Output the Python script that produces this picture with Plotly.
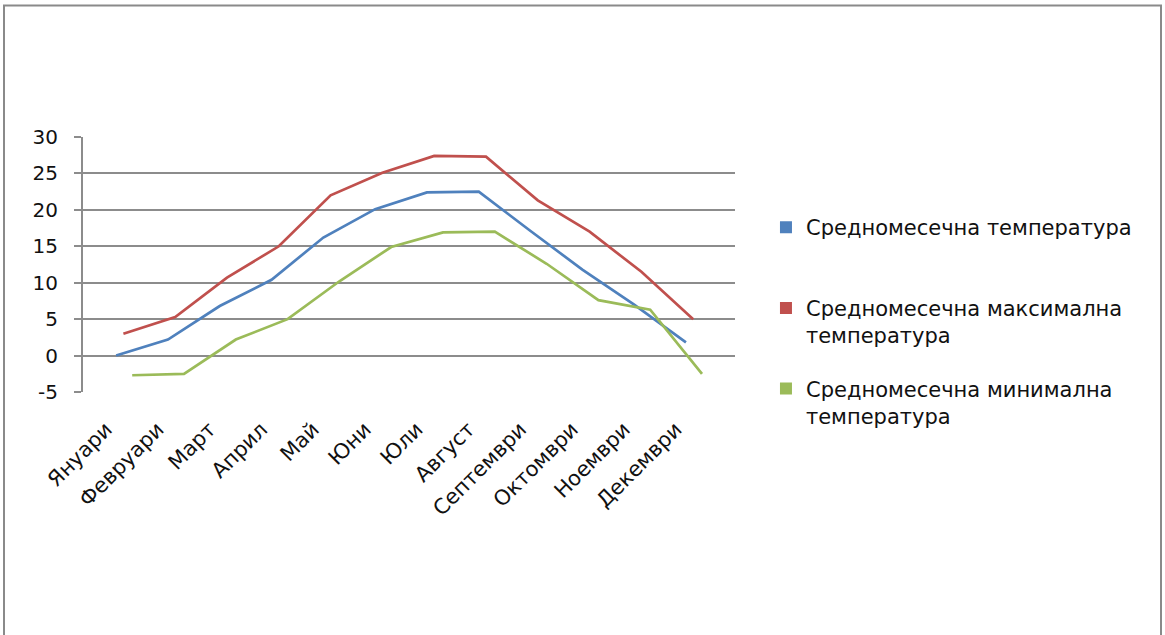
import plotly.graph_objects as go

# Monthly temperatures (°C)
months = ["Януари", "Февруари", "Март", "Април", "Май", "Юни",
          "Юли", "Август", "Септември", "Октомври", "Ноември", "Декември"]
mean_temp = [0.0, 2.2, 6.8, 10.4, 16.2, 20.1, 22.4, 22.5, 17.1, 11.8, 7.0, 1.8]
max_temp = [3.0, 5.3, 10.7, 15.0, 22.0, 25.1, 27.4, 27.3, 21.3, 17.0, 11.5, 5.0]
min_temp = [-2.7, -2.5, 2.2, 5.0, 10.2, 14.9, 16.9, 17.0, 12.6, 7.6, 6.3, -2.5]

y_ticks = [-5, 0, 5, 10, 15, 20, 25, 30]
y_tick_labels = ["-5", "0", "5", "10", "15", "20", "25", "30"]

series_names = [
    "Средномесечна температура<br> ",
    "Средномесечна максимална<br>температура",
    "Средномесечна минимална<br>температура",
]
series_colors = ["#4F81BD", "#C0504D", "#9BBB59"]
# horizontal shift of each line within its month slot (in month units)
series_shift = [0.14, 0.28, 0.45]

FONT = "DejaVu Sans"
GRID = "#8c8c8c"
TEXT = "#111111"

x_range = [-0.5, 12.087]

fig = go.Figure()

series = [mean_temp, max_temp, min_temp]
for i, (vals, name, color, shift) in enumerate(zip(series, series_names, series_colors, series_shift)):
    axis_id = f"x{i + 2}"
    fig.add_trace(go.Scatter(
        x=months, y=vals, mode="lines", name=name,
        line=dict(color=color, width=2.7),
        xaxis=axis_id, showlegend=False,
    ))
    fig.layout[f"xaxis{i + 2}"] = dict(
        type="category", categoryorder="array", categoryarray=months,
        range=[x_range[0] - shift, x_range[1] - shift],
        overlaying="x", visible=False, fixedrange=True,
    )
    # legend entry with a square key
    fig.add_trace(go.Scatter(
        x=[None], y=[None], mode="markers", name=name,
        marker=dict(symbol="square", size=12, color=color),
        legendgroup=f"g{i}",
    ))

# bottom axis carrying the month labels
fig.update_layout(
    xaxis=dict(
        range=x_range, tickmode="array",
        tickvals=list(range(len(months))), ticktext=months,
        tickangle=-45, ticks="", showgrid=False, showline=False, zeroline=False,
        tickfont=dict(family=FONT, size=21, color=TEXT),
        ticklabelstandoff=20, ticklabelshift=-3,
    ),
    # category axis drawn through zero with tick marks at month boundaries
    xaxis5=dict(
        range=x_range, overlaying="x", anchor="free", position=5 / 35,
        tickmode="array", tickvals=[k + 0.5 for k in range(-1, len(months))],
        ticks="outside", ticklen=8, tickwidth=2, tickcolor=GRID,
        showticklabels=False, showgrid=False, zeroline=False,
        showline=True, linecolor=GRID, linewidth=2,
    ),
    yaxis=dict(
        range=[-5, 30], tickmode="array", tickvals=y_ticks, ticktext=y_tick_labels,
        ticks="outside", ticklen=7, tickwidth=2, tickcolor=GRID,
        showgrid=True, gridcolor=GRID, gridwidth=2,
        showline=True, linecolor=GRID, linewidth=2, zeroline=False,
        tickfont=dict(family=FONT, size=20, color=TEXT),
        ticklabelstandoff=12,
    ),
    legend=dict(
        x=1.0475, xanchor="left", y=0.725, yanchor="top",
        font=dict(family=FONT, size=21, color=TEXT),
        valign="top", tracegroupgap=23, traceorder="grouped",
        bgcolor="rgba(0,0,0,0)",
    ),
    width=1165, height=635,
    margin=dict(l=83, r=430, t=137, b=243),
    paper_bgcolor="white", plot_bgcolor="white",
    shapes=[dict(
        type="rect", xref="paper", yref="paper",
        x0=(4 - 83) / 652, x1=(1161 - 83) / 652,
        y0=(392.3 - 660) / 255.6, y1=(392.3 - 5) / 255.6,
        line=dict(color="#8a8a8a", width=2), layer="below",
    )],
)

fig.write_html("out.html")
